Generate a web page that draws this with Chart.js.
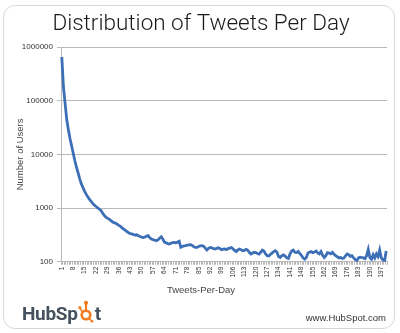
<!DOCTYPE html>
<html>
<head>
<meta charset="utf-8">
<script src="https://cdn.jsdelivr.net/npm/chart.js@4.4.1/dist/chart.umd.min.js"></script>
<style>
  html, body { margin: 0; padding: 0; background: #fff; }
  #wrap { position: relative; width: 400px; height: 333px; overflow: hidden; }
  #frame { position: absolute; left: 3px; top: 5px; width: 392px; height: 324px;
           border: 1px solid #d9d9d9; border-radius: 12px; box-sizing: border-box; }
  #chart { position: absolute; left: 0; top: 0; }
  #logo { position: absolute; left: 22px; top: 299px; font-family: Roboto, "Liberation Sans", sans-serif;
          font-weight: 700; font-size: 19px; color: #45525d; letter-spacing: -0.3px; line-height: 24px; white-space: nowrap; }
  #logo svg { display: inline-block; vertical-align: -3px; margin: 0 0.5px; }
  #url { position: absolute; right: 14px; top: 312px; font-family: "Liberation Sans", Arial, sans-serif;
         font-size: 9.5px; color: #333; }
</style>
</head>
<body>
<div id="wrap">
  <div id="frame"></div>
  <canvas id="chart" width="400" height="333"></canvas>
  <div id="logo">HubSp<svg width="16" height="24" viewBox="0 0 16 24">
      <circle cx="8" cy="16" r="4.3" fill="none" stroke="#f47a20" stroke-width="2.6"/>
      <line x1="8" y1="11.5" x2="8" y2="5" stroke="#f47a20" stroke-width="2.2"/>
      <circle cx="8" cy="3.8" r="2.1" fill="#f47a20"/>
      <line x1="4.6" y1="13.2" x2="1.8" y2="9" stroke="#f47a20" stroke-width="1.6"/>
      <circle cx="1.8" cy="8.6" r="1.5" fill="#f47a20"/>
      <line x1="11.2" y1="19.4" x2="13.8" y2="22" stroke="#f47a20" stroke-width="1.6"/>
      <circle cx="14" cy="22.2" r="1.3" fill="#f47a20"/>
    </svg>t</div>
  <div id="url">www.HubSpot.com</div>
</div>
<script>
// Tweets-per-day buckets 1..200
const days = [];
for (let d = 1; d <= 200; d++) days.push(String(d));

// Number of users tweeting that many times per day
const users = [
  650000, 180000, 90000, 45000, 29000, 20000, 14500, 10500, 7600, 5800,
  4500, 3500, 2800, 2400, 2050, 1800, 1600, 1450, 1330, 1220,
  1130, 1070, 1010, 960, 900, 810, 730, 680, 650, 620,
  590, 555, 535, 520, 500, 475, 455, 425, 405, 385,
  365, 345, 335, 330, 320, 315, 318, 305, 295, 288,
  282, 290, 300, 306, 280, 265, 258, 252, 247, 255,
  275, 292, 262, 232, 225, 218, 214, 222, 228, 230,
  226, 232, 240, 186, 192, 198, 200, 205, 207, 208,
  202, 190, 186, 185, 192, 198, 200, 195, 180, 166,
  178, 185, 182, 176, 173, 178, 182, 176, 168, 172,
  173, 168, 176, 180, 184, 175, 162, 154, 166, 172,
  168, 160, 163, 170, 165, 150, 139, 145, 150, 148,
  142, 139, 150, 165, 158, 140, 130, 128, 138, 145,
  155, 161, 150, 125, 120, 130, 134, 128, 118, 115,
  140, 158, 165, 150, 148, 156, 142, 132, 118, 112,
  120, 145, 150, 155, 148, 152, 158, 146, 140, 155,
  132, 120, 130, 148, 145, 140, 150, 138, 130, 124,
  118, 120, 115, 117, 128, 140, 135, 126, 130, 118,
  110, 104, 118, 122, 120, 118, 114, 130, 170, 120,
  112, 135, 118, 140, 125, 165, 118, 108, 104, 158
];

// Log-axis tick values and the x labels shown (every 7th day)
const yTicks = [100, 1000, 10000, 100000, 1000000];
const xLabelStep = 7;

const gridGray = '#b9b9b9';
const textFont = '"Liberation Sans", Arial, sans-serif';
const lightFont = 'Roboto, "Liberation Sans", sans-serif';

new Chart(document.getElementById('chart'), {
  type: 'line',
  data: {
    labels: days,
    datasets: [{
      data: users,
      borderColor: '#3d6fb6',
      borderWidth: 2.8,
      pointRadius: 0,
      tension: 0,
      fill: false
    }]
  },
  options: {
    responsive: false,
    animation: false,
    layout: { padding: { left: 15, right: 13, top: 0, bottom: 37 } },
    plugins: {
      legend: { display: false },
      tooltip: { enabled: false },
      title: {
        display: true,
        text: 'Distribution of Tweets Per Day',
        color: '#1a1a1a',
        font: { family: lightFont, size: 22.5, weight: 300 },
        padding: { top: 11, bottom: 9 }
      },
      subtitle: {
        display: true,
        position: 'bottom',
        text: 'Tweets-Per-Day',
        color: '#444',
        font: { family: textFont, size: 9.5 },
        padding: { top: 5, bottom: 0 }
      }
    },
    scales: {
      x: {
        type: 'category',
        offset: true,
        grid: { display: true, drawOnChartArea: false, offset: true, color: gridGray, tickLength: 3 },
        border: { display: true, color: gridGray, width: 1 },
        ticks: {
          autoSkip: false,
          minRotation: 90,
          maxRotation: 90,
          padding: 2,
          color: '#333',
          font: { family: textFont, size: 6.5 },
          callback: function (v, i) {
            return (i % xLabelStep === 0) ? days[i] : '';
          }
        }
      },
      y: {
        type: 'logarithmic',
        min: yTicks[0],
        max: yTicks[yTicks.length - 1],
        afterBuildTicks: function (scale) {
          scale.ticks = yTicks.map(function (v) { return { value: v }; });
        },
        afterFit: function (scale) { scale.width = 46; },
        grid: { color: gridGray, lineWidth: 1, tickLength: 4 },
        border: { display: true, color: gridGray, width: 1 },
        title: {
          display: true,
          text: 'Number of Users',
          color: '#444',
          font: { family: textFont, size: 9.5 },
          padding: { top: 0, bottom: 0 }
        },
        ticks: {
          padding: 4,
          color: '#333',
          font: { family: textFont, size: 8 },
          callback: function (v) { return String(v); }
        }
      }
    }
  }
});
</script>
</body>
</html>
